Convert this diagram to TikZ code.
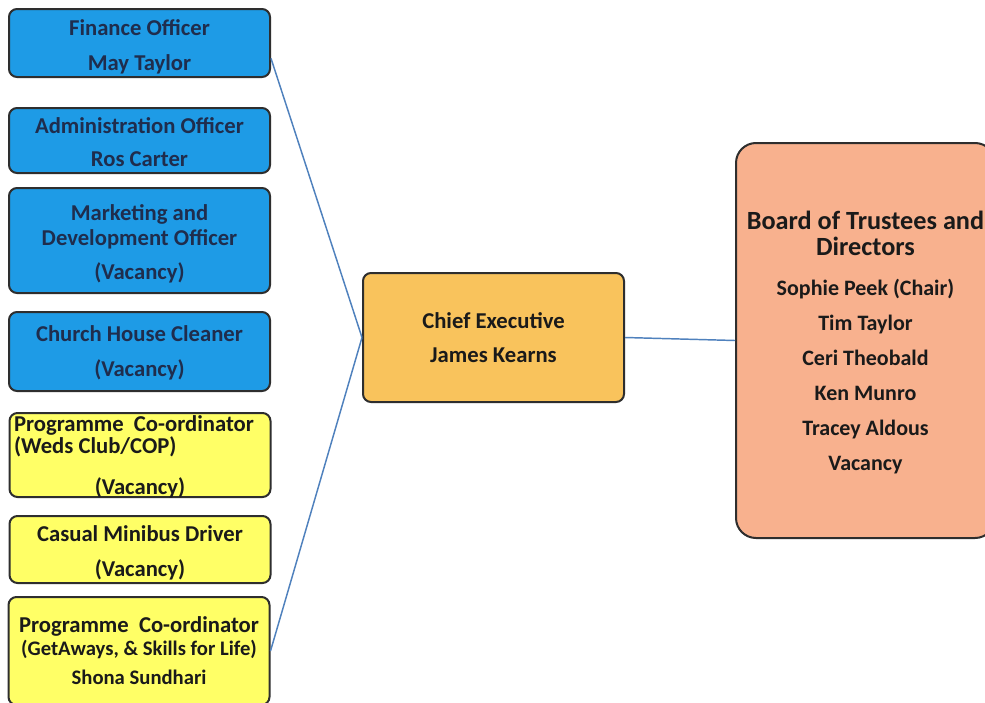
\documentclass[tikz,border=0pt]{standalone}
\usepackage{fontspec}
\setmainfont{Carlito}
\usetikzlibrary{calc}
\definecolor{bluebox}{HTML}{1E9BE6}
\definecolor{yellowbox}{HTML}{FFFF66}
\definecolor{chiefbox}{HTML}{F9C35C}
\definecolor{boardbox}{HTML}{F8B18E}
\definecolor{edgecol}{HTML}{2E2E2E}
\definecolor{linkcol}{HTML}{4F81BD}
\definecolor{bluetext}{HTML}{1F2D4D}
\definecolor{darktext}{HTML}{1A1A1A}
\begin{document}
\begin{tikzpicture}[x=0.75pt,y=-0.75pt,
  box/.style={draw=edgecol, line width=1.5pt, rounded corners=6pt, align=center,
    inner sep=0pt, font=\fontsize{17}{26.25}\selectfont\bfseries, minimum width=195.75pt},
  staffbox/.style={box, fill=bluebox, text=bluetext},
  progbox/.style={box, fill=yellowbox, text=darktext},
  chiefstyle/.style={box, fill=chiefbox, text=darktext},
  boardstyle/.style={box, fill=boardbox, text=darktext, rounded corners=15pt,
    font=\fontsize{16.5}{26.25}\selectfont\bfseries},
  link/.style={draw=linkcol, line width=1.1pt}]
\clip (0,0) rectangle (985,703);
\fill[white] (0,0) rectangle (985,703);

\node[staffbox, minimum height=51pt] (fin) at (139.5,43) {\rule{0pt}{17pt}Finance Officer\\May Taylor};
\node[staffbox, minimum height=48.75pt] (adm) at (139.5,140.5) {\rule{0pt}{14.5pt}Administration Officer\\[-1.5pt]Ros Carter};
\node[staffbox, minimum height=78.75pt] (mkt) at (139.5,240.5) {\rule{0pt}{17pt}Marketing and\\[-7.5pt]Development Officer\\[-0.75pt](Vacancy)};
\node[staffbox, minimum height=59.25pt] (cln) at (139.5,351.5) {\rule{0pt}{14pt}Church House Cleaner\\(Vacancy)};
\node[progbox, minimum height=63pt, text height=59.9pt, text depth=0pt] (weds) at (140,455)
  {\makebox[189pt][l]{Programme\ \ Co-ordinator}\\[-9.75pt]\makebox[189pt][l]{(Weds Club/COP)}\\[4.5pt](Vacancy)};
\node[progbox, minimum height=50.25pt] (bus) at (140,549.5) {\rule{0pt}{17pt}Casual Minibus Driver\\(Vacancy)};
\node[progbox, minimum height=81pt] (get) at (139,651)
  {Programme\ \ Co-ordinator\\[-9pt]{\fontsize{15.5}{26.25}\selectfont (GetAways, \& Skills for Life)}\\[-4.5pt]{\fontsize{15.5}{26.25}\selectfont Shona Sundhari}};

\node[chiefstyle, minimum height=96.75pt] (chief) at (493.5,337.5) {Chief Executive\\[-0.75pt]James Kearns};

\node[boardstyle, minimum width=194.25pt, minimum height=296.25pt] (board) at (865.5,340.5)
  {\rule{0pt}{17pt}{\fontsize{19.7}{26.25}\selectfont Board of Trustees and}\\[-6.75pt]{\fontsize{19.7}{26.25}\selectfont Directors}\\[3.75pt]Sophie Peek (Chair)\\Tim Taylor\\Ceri Theobald\\Ken Munro\\Tracey Aldous\\Vacancy};

\draw[link] ($(fin.north east)!0.72!(fin.south east)$) -- (chief.west);
\draw[link] (get.east) -- (chief.west);
\draw[link] (chief.east) -- (board.west);
\end{tikzpicture}
\end{document}
